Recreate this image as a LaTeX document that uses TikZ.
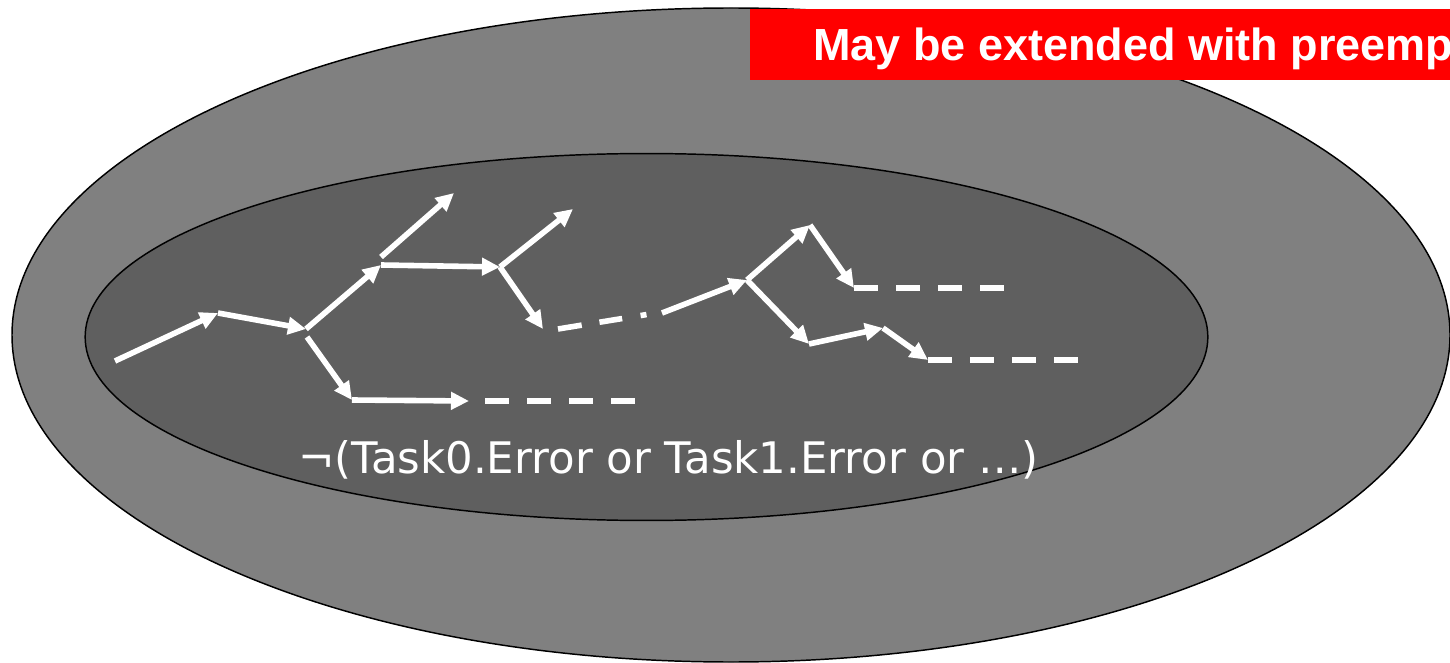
\documentclass[tikz,border=0pt]{standalone}
\usepackage{fontspec}
\setmainfont{DejaVu Sans}
\newfontfamily\bannerfont{Liberation Sans}
\usetikzlibrary{arrows.meta}
\definecolor{outergray}{HTML}{808080}
\definecolor{innergray}{HTML}{5F5F5F}
\definecolor{bannerred}{HTML}{FF0000}
\begin{document}
\begin{tikzpicture}[x=0.75pt, y=-0.75pt,
  region/.style={draw=black, line width=1.1pt},
  trace/.style={draw=white, line width=4.2pt,
    -{Triangle[length=13.5pt, width=12.75pt]}},
  tail/.style={draw=white, line width=4.2pt, dash pattern=on 18pt off 13.5pt},
  dashdot/.style={draw=white, line width=4.2pt,
    dash pattern=on 18pt off 13.5pt on 17.25pt off 14pt on 4.5pt off 100pt},
  guard/.style={text=white, inner sep=0pt,
    font=\fontsize{32.6pt}{38pt}\selectfont},
  banner/.style={text=white, inner sep=0pt,
    font=\bannerfont\bfseries\fontsize{33.75pt}{40pt}\selectfont}]

\useasboundingbox (0,0) rectangle (1450,663);
\clip (0,0) rectangle (1450,663);

% nested state-space regions
\path[region, fill=outergray] (731,335) ellipse [x radius=539.25pt, y radius=245.25pt];
\path[region, fill=innergray] (646.5,337) ellipse [x radius=421pt, y radius=137.6pt];

% execution-tree points
\coordinate (a0)  at (115,361);
\coordinate (a1)  at (218,313);
\coordinate (n1)  at (306,329);
\coordinate (n1b) at (307,337);
\coordinate (a2)  at (381,265);
\coordinate (a2b) at (381,257);
\coordinate (a3)  at (454,193);
\coordinate (n2)  at (500,267);
\coordinate (a4)  at (573,209);
\coordinate (a5)  at (543,329);
\coordinate (d0)  at (558,329);
\coordinate (d1)  at (650,314);
\coordinate (s0)  at (662,313);
\coordinate (n3)  at (747,280);
\coordinate (a6)  at (810,225);
\coordinate (a7)  at (854,288);
\coordinate (a7e) at (1004,288);
\coordinate (a8)  at (809,344);
\coordinate (a9)  at (883,328);
\coordinate (a10) at (928,360);
\coordinate (a10e) at (1078,360);
\coordinate (a11) at (352,400);
\coordinate (a12) at (469,401);
\coordinate (a12s) at (485,401);
\coordinate (a12e) at (635,401);

% execution paths
\draw[trace] (a0) -- (a1);
\draw[trace] (a1) -- (n1);
\draw[trace] (n1) -- (a2);
\draw[trace] (a2b) -- (a3);
\draw[trace] (a2) -- (n2);
\draw[trace] (n2) -- (a4);
\draw[trace] (n2) -- (a5);
\draw[dashdot] (d0) -- (d1);
\draw[trace] (s0) -- (n3);
\draw[trace] (n3) -- (a6);
\draw[trace] (a6) -- (a7);
\draw[tail] (a7) -- (a7e);
\draw[trace] (n3) -- (a8);
\draw[trace] (a8) -- (a9);
\draw[trace] (a9) -- (a10);
\draw[tail] (a10) -- (a10e);
\draw[trace] (n1b) -- (a11);
\draw[trace] (a11) -- (a12);
\draw[tail] (a12s) -- (a12e);

% invariant of the inner region
\node[guard, anchor=base] (inv) at (668.5,473) {¬(Task0.Error or Task1.Error or …)};

% banner, running past the right edge
\fill[bannerred] (750,9) rectangle (1460,80);
\node[banner, anchor=base west] (note) at (813,61) {May be extended with preemption};
\end{tikzpicture}
\end{document}
